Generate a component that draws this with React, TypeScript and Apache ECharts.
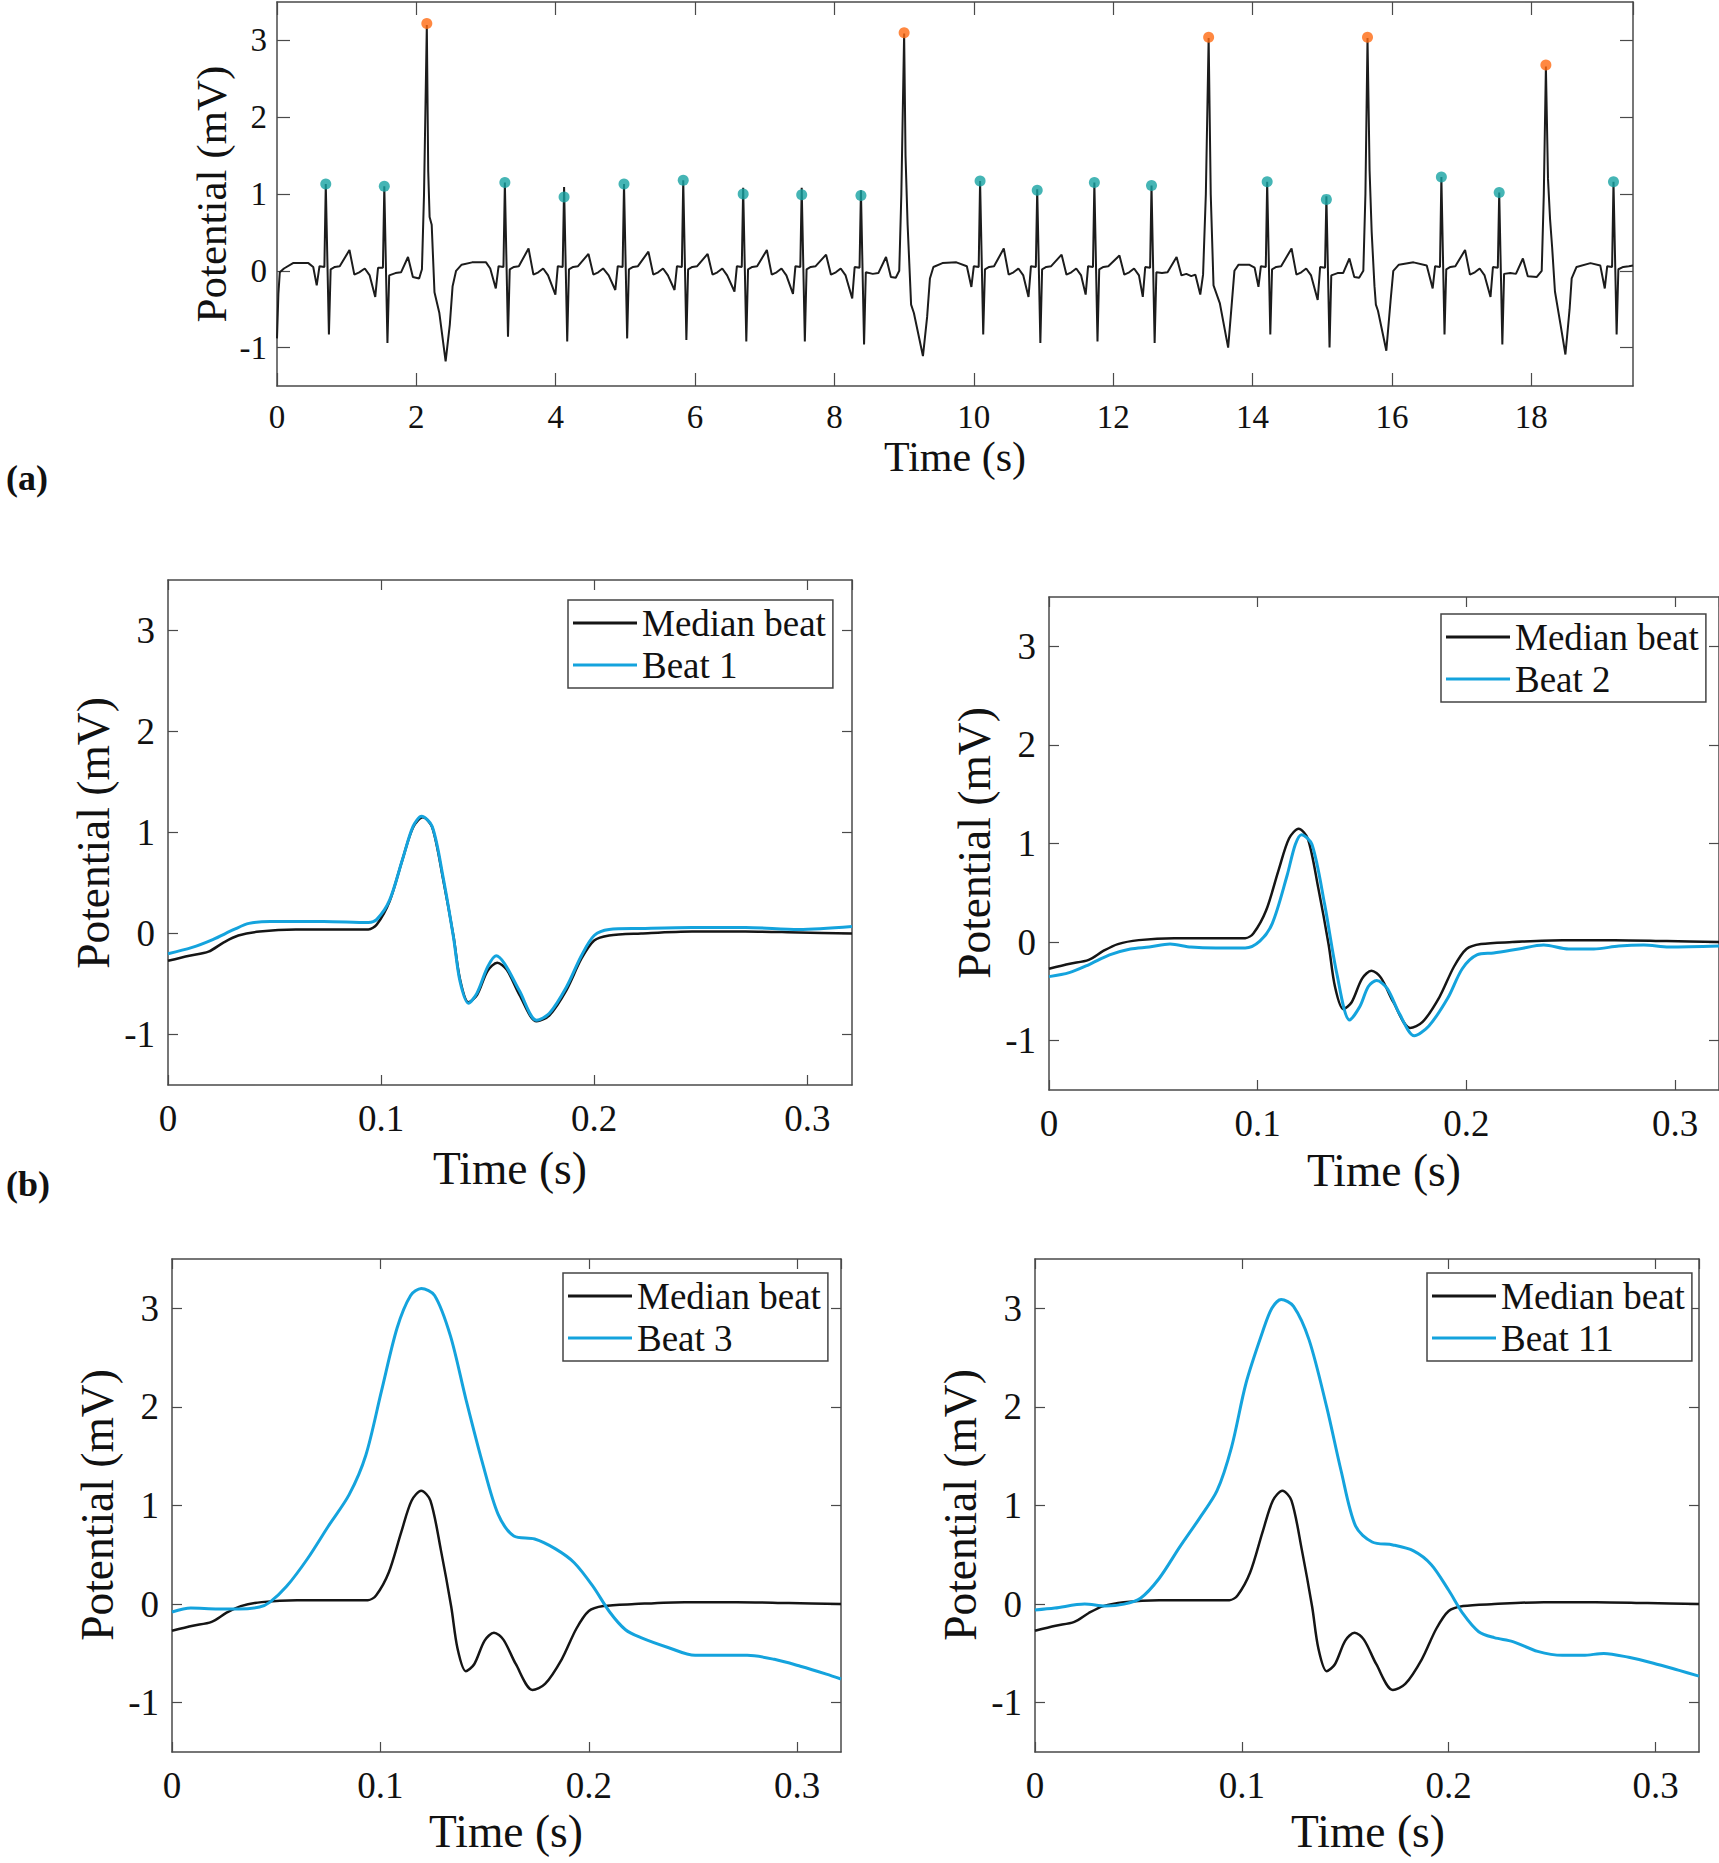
import React, { useEffect, useRef } from 'react';
import * as echarts from 'echarts';

const FONT = '"Liberation Serif", "Times New Roman", serif';

// ---------- (a) full record ----------
const ecgTrace: [number, number][] = [
  [0.00,-0.88],[0.02,-0.30],[0.04,-0.02],[0.10,0.03],[0.23,0.10],[0.45,0.10],[0.52,0.05],
  [0.57,-0.19],[0.61,0.06],[0.68,0.05],[0.70,1.13],[0.745,-0.83],[0.77,0.02],[0.83,0.05],[0.90,0.06],[1.04,0.27],[1.11,-0.05],[1.18,-0.02],[1.26,0.03],[1.33,-0.06],
  [1.41,-0.34],[1.45,0.04],[1.52,0.04],[1.54,1.10],[1.585,-0.94],[1.61,-0.06],[1.70,-0.03],[1.78,-0.02],[1.88,0.18],[1.95,-0.08],[2.04,-0.10],[2.08,0.02],
  [2.11,1.00],[2.15,3.20],[2.17,1.30],[2.19,0.70],[2.22,0.60],[2.26,-0.28],[2.33,-0.55],[2.42,-1.18],[2.48,-0.70],[2.52,-0.20],[2.57,0.00],[2.65,0.08],[2.80,0.11],[3.00,0.11],[3.06,0.03],
  [3.14,-0.23],[3.18,0.06],[3.25,0.05],[3.27,1.15],[3.315,-0.86],[3.34,0.02],[3.40,0.05],[3.47,0.06],[3.61,0.29],[3.68,-0.05],[3.75,-0.02],[3.82,0.03],[3.89,-0.06],
  [3.995,-0.31],[4.03,0.06],[4.10,0.05],[4.12,1.09],[4.165,-0.92],[4.19,0.02],[4.25,0.05],[4.32,0.06],[4.47,0.22],[4.54,-0.05],[4.61,-0.02],[4.68,0.03],[4.76,-0.06],
  [4.855,-0.25],[4.89,0.06],[4.96,0.05],[4.98,1.13],[5.025,-0.88],[5.05,0.02],[5.11,0.05],[5.18,0.06],[5.33,0.25],[5.40,-0.05],[5.47,-0.02],[5.54,0.03],[5.61,-0.06],
  [5.705,-0.25],[5.74,0.06],[5.81,0.05],[5.83,1.18],[5.875,-0.90],[5.90,0.02],[5.96,0.05],[6.03,0.06],[6.18,0.22],[6.25,-0.05],[6.32,-0.02],[6.39,0.03],[6.46,-0.06],
  [6.565,-0.27],[6.60,0.06],[6.67,0.05],[6.69,1.08],[6.735,-0.92],[6.76,0.02],[6.82,0.05],[6.89,0.06],[7.03,0.27],[7.10,-0.05],[7.17,-0.02],[7.24,0.03],[7.31,-0.06],
  [7.405,-0.30],[7.44,0.06],[7.51,0.05],[7.53,1.08],[7.575,-0.92],[7.60,0.02],[7.66,0.05],[7.73,0.06],[7.88,0.21],[7.95,-0.05],[8.02,-0.02],[8.09,0.03],[8.16,-0.06],
  [8.255,-0.36],[8.29,0.05],[8.36,0.04],[8.38,1.05],[8.425,-0.96],[8.45,-0.02],[8.55,-0.04],[8.63,-0.03],[8.74,0.18],[8.81,-0.08],[8.88,-0.09],[8.93,0.00],
  [8.96,1.00],[9.00,3.09],[9.02,1.50],[9.05,0.60],[9.10,-0.44],[9.14,-0.55],[9.27,-1.11],[9.33,-0.60],[9.37,-0.10],[9.42,0.05],[9.55,0.10],[9.75,0.11],[9.90,0.06],
  [9.965,-0.21],[10.00,0.06],[10.07,0.05],[10.09,1.17],[10.135,-0.83],[10.16,0.02],[10.22,0.05],[10.29,0.06],[10.43,0.29],[10.50,-0.05],[10.57,-0.02],[10.64,0.03],[10.71,-0.06],
  [10.785,-0.34],[10.82,0.06],[10.89,0.05],[10.91,1.06],[10.955,-0.94],[10.98,0.02],[11.04,0.05],[11.11,0.06],[11.26,0.21],[11.33,-0.05],[11.40,-0.02],[11.47,0.03],[11.54,-0.06],
  [11.605,-0.31],[11.64,0.06],[11.71,0.05],[11.73,1.15],[11.775,-0.92],[11.80,0.02],[11.86,0.05],[11.93,0.06],[12.09,0.20],[12.16,-0.05],[12.23,-0.02],[12.30,0.03],[12.37,-0.06],
  [12.425,-0.34],[12.46,0.05],[12.53,0.04],[12.55,1.11],[12.595,-0.94],[12.62,-0.02],[12.70,-0.03],[12.78,-0.02],[12.91,0.18],[12.98,-0.06],[13.05,-0.04],[13.12,-0.07],[13.18,-0.05],[13.25,-0.31],[13.29,-0.05],
  [13.33,1.00],[13.37,3.03],[13.40,1.00],[13.44,-0.19],[13.53,-0.42],[13.65,-1.00],[13.70,-0.45],[13.74,0.00],[13.80,0.08],[13.95,0.08],[14.03,0.04],
  [14.085,-0.21],[14.12,0.06],[14.19,0.05],[14.21,1.16],[14.255,-0.83],[14.28,0.02],[14.34,0.05],[14.41,0.06],[14.56,0.29],[14.63,-0.05],[14.70,-0.02],[14.77,0.03],[14.84,-0.06],
  [14.935,-0.38],[14.97,0.05],[15.04,0.04],[15.06,0.97],[15.105,-1.00],[15.13,-0.06],[15.22,-0.03],[15.30,-0.03],[15.39,0.16],[15.46,-0.08],[15.53,-0.09],[15.59,0.00],
  [15.62,1.00],[15.65,3.03],[15.68,1.30],[15.71,0.50],[15.75,-0.20],[15.77,-0.44],[15.80,-0.52],[15.92,-1.04],[15.98,-0.40],[16.02,0.00],[16.10,0.08],[16.31,0.11],[16.50,0.07],
  [16.585,-0.23],[16.62,0.06],[16.69,0.05],[16.71,1.22],[16.755,-0.83],[16.78,0.02],[16.84,0.05],[16.91,0.06],[17.05,0.27],[17.12,-0.05],[17.19,-0.02],[17.26,0.03],[17.33,-0.06],
  [17.415,-0.34],[17.45,0.05],[17.52,0.04],[17.54,1.02],[17.585,-0.96],[17.61,-0.04],[17.70,-0.03],[17.78,-0.04],[17.88,0.16],[17.95,-0.07],[18.08,-0.08],[18.15,0.00],
  [18.18,1.00],[18.21,2.66],[18.24,1.20],[18.27,0.67],[18.30,0.30],[18.34,-0.27],[18.42,-0.70],[18.49,-1.09],[18.55,-0.50],[18.58,-0.10],[18.65,0.05],[18.85,0.10],[18.99,0.07],
  [19.055,-0.23],[19.09,0.06],[19.16,0.05],[19.18,1.16],[19.225,-0.83],[19.25,0.02],[19.32,0.05],[19.40,0.06],[19.46,0.07],
];

const normalPeaks: [number, number][] = [
  [0.70,1.13],[1.54,1.10],[3.27,1.15],[4.12,0.96],[4.98,1.13],[5.83,1.18],[6.69,1.00],[7.53,0.99],[8.38,0.98],
  [10.09,1.17],[10.91,1.05],[11.73,1.15],[12.55,1.11],[14.21,1.16],[15.06,0.93],[16.71,1.22],[17.54,1.02],[19.18,1.16],
];
const ectopicPeaks: [number, number][] = [
  [2.15,3.22],[9.00,3.10],[13.37,3.04],[15.65,3.04],[18.21,2.68],
];

// ---------- (b) beats ----------
const medianBeat: [number, number][] = [
  [0,-0.27],[0.010,-0.22],[0.019,-0.18],[0.026,-0.09],[0.033,-0.02],[0.043,0.02],[0.060,0.04],[0.085,0.04],[0.094,0.04],
  [0.098,0.09],[0.104,0.32],[0.110,0.73],[0.115,1.05],[0.1196,1.15],[0.124,1.05],[0.129,0.55],[0.134,-0.03],[0.137,-0.45],
  [0.141,-0.68],[0.145,-0.61],[0.150,-0.37],[0.1545,-0.29],[0.159,-0.36],[0.165,-0.61],[0.173,-0.87],[0.179,-0.81],
  [0.187,-0.56],[0.194,-0.25],[0.200,-0.07],[0.207,-0.02],[0.222,0.00],[0.246,0.02],[0.271,0.02],[0.296,0.01],[0.321,0.00],
];
const beat1: [number, number][] = [
  [0,-0.20],[0.011,-0.14],[0.021,-0.06],[0.031,0.04],[0.038,0.10],[0.048,0.12],[0.073,0.12],[0.094,0.11],[0.098,0.14],
  [0.104,0.33],[0.110,0.73],[0.115,1.06],[0.119,1.16],[0.124,1.06],[0.129,0.57],[0.134,-0.04],[0.137,-0.47],[0.141,-0.69],
  [0.145,-0.59],[0.150,-0.33],[0.154,-0.22],[0.158,-0.30],[0.165,-0.57],[0.173,-0.86],[0.179,-0.79],[0.187,-0.53],
  [0.194,-0.22],[0.200,-0.02],[0.207,0.04],[0.222,0.05],[0.246,0.06],[0.271,0.06],[0.296,0.04],[0.321,0.07],
];
const beat2: [number, number][] = [
  [0,-0.35],[0.0097,-0.31],[0.019,-0.23],[0.029,-0.13],[0.039,-0.07],[0.048,-0.05],[0.058,-0.02],[0.068,-0.05],[0.080,-0.06],
  [0.094,-0.06],[0.101,0.01],[0.107,0.19],[0.114,0.67],[0.118,0.99],[0.121,1.09],[0.126,0.99],[0.132,0.39],[0.138,-0.33],
  [0.144,-0.79],[0.149,-0.65],[0.153,-0.45],[0.157,-0.39],[0.162,-0.47],[0.168,-0.73],[0.175,-0.95],[0.182,-0.85],
  [0.191,-0.57],[0.198,-0.27],[0.205,-0.13],[0.213,-0.11],[0.225,-0.07],[0.237,-0.03],[0.249,-0.07],[0.261,-0.07],
  [0.273,-0.04],[0.285,-0.03],[0.297,-0.05],[0.321,-0.04],
];
const beat3: [number, number][] = [
  [0,-0.08],[0.009,-0.04],[0.022,-0.05],[0.032,-0.05],[0.042,-0.03],[0.047,0.02],[0.055,0.18],[0.065,0.46],[0.075,0.79],
  [0.085,1.11],[0.093,1.51],[0.1005,2.16],[0.108,2.80],[0.1145,3.13],[0.1196,3.20],[0.126,3.13],[0.1336,2.72],[0.141,2.08],
  [0.149,1.43],[0.1565,0.91],[0.164,0.69],[0.174,0.66],[0.184,0.56],[0.193,0.42],[0.202,0.18],[0.210,-0.08],[0.2176,-0.26],
  [0.225,-0.34],[0.238,-0.44],[0.251,-0.52],[0.263,-0.52],[0.276,-0.52],[0.289,-0.56],[0.3015,-0.63],[0.314,-0.71],[0.321,-0.76],
];
const beat11: [number, number][] = [
  [0,-0.06],[0.0096,-0.04],[0.024,0.00],[0.034,-0.02],[0.043,0.00],[0.051,0.06],[0.060,0.26],[0.070,0.58],[0.0795,0.87],
  [0.088,1.15],[0.095,1.59],[0.102,2.24],[0.110,2.76],[0.1145,3.00],[0.119,3.09],[0.125,3.02],[0.1325,2.68],[0.141,2.00],
  [0.148,1.35],[0.155,0.79],[0.163,0.63],[0.173,0.60],[0.183,0.54],[0.1916,0.40],[0.200,0.14],[0.207,-0.10],[0.2145,-0.28],
  [0.222,-0.34],[0.231,-0.38],[0.243,-0.48],[0.255,-0.52],[0.265,-0.52],[0.275,-0.50],[0.287,-0.54],[0.299,-0.60],[0.311,-0.67],[0.321,-0.73],
];

const yTicks = [-1, 0, 1, 2, 3];
const topXMax = 19.46;
const beatXMax = 0.321;
const X_NAME = 'Time (s)';
const Y_NAME = 'Potential (mV)';

const AXIS_COLOR = '#4a4a4a';
const TEXT_COLOR = '#111';
const BLUE = '#14a3dd';
const MEDIAN_COLOR = '#151515';

function axesFor(g: number, xMax: number, xInterval: number, tickLen: number, fontSize: number, yMargin: number, xMargin: number) {
  const line = { show: true, onZero: false, lineStyle: { color: AXIS_COLOR, width: 1.5 } };
  const tick = { show: true, inside: true, length: tickLen, lineStyle: { color: AXIS_COLOR, width: 1.2 } };
  const xFmt = (v: number) => {
    const r = Math.round(v / xInterval) * xInterval;
    if (Math.abs(r - v) > 1e-9 || v > xMax - 1e-9) return '';
    if (xInterval < 1) return v === 0 ? '0' : v.toFixed(1);
    return String(Math.round(v));
  };
  const xs = [
    {
      type: 'value', gridIndex: g, position: 'bottom', min: 0, max: xMax, interval: xInterval,
      axisLine: line, axisTick: tick, splitLine: { show: false },
      axisLabel: { show: true, showMaxLabel: false, margin: xMargin, fontFamily: FONT, fontSize, color: TEXT_COLOR, formatter: xFmt },
    },
    {
      type: 'value', gridIndex: g, position: 'top', min: 0, max: xMax, interval: xInterval,
      axisLine: line, axisTick: tick, splitLine: { show: false }, axisLabel: { show: false },
    },
  ];
  const ys = [
    {
      type: 'value', gridIndex: g, position: 'left', min: -1.5, max: 3.5,
      axisLine: line, axisTick: { ...tick, customValues: yTicks }, splitLine: { show: false },
      axisLabel: { show: true, customValues: yTicks, margin: yMargin, fontFamily: FONT, fontSize, color: TEXT_COLOR, formatter: (v: number) => String(v) },
    },
    {
      type: 'value', gridIndex: g, position: 'right', min: -1.5, max: 3.5,
      axisLine: line, axisTick: { ...tick, customValues: yTicks }, splitLine: { show: false }, axisLabel: { show: false },
    },
  ];
  return { xs, ys };
}

const grids = [
  { left: 277, top: 2, width: 1356, height: 384 },
  { left: 168, top: 580, width: 684, height: 505 },
  { left: 1049, top: 597, width: 672, height: 493 },
  { left: 172, top: 1259, width: 669, height: 493 },
  { left: 1035, top: 1259, width: 664, height: 493 },
];

function text(x: number, y: number, s: string, size: number, rotate = false, bold = false, align = 'center') {
  return {
    type: 'text', x, y, rotation: rotate ? Math.PI / 2 : 0, silent: true,
    style: { text: s, fill: TEXT_COLOR, font: `${bold ? 'bold ' : ''}${size}px ${FONT}`, textAlign: align, textVerticalAlign: 'middle' },
  };
}

function legendAt(left: number, top: number, beatName: string) {
  return {
    data: ['Median beat', beatName], orient: 'vertical', left, top, selectedMode: false,
    icon: 'rect', itemWidth: 64, itemHeight: 3, itemGap: 2, itemTextGap: 4,
    padding: [3, 7, 3, 5], borderColor: '#444', borderWidth: 1.5, backgroundColor: '#fff',
    textStyle: { fontFamily: FONT, fontSize: 37, color: TEXT_COLOR, lineHeight: 40 },
  };
}

function buildOption() {
  const xAxis: any[] = [];
  const yAxis: any[] = [];
  const a0 = axesFor(0, topXMax, 2, 13, 33, 10, 14);
  xAxis.push(...a0.xs); yAxis.push(...a0.ys);
  for (let g = 1; g <= 4; g++) {
    const a = axesFor(g, beatXMax, 0.1, 10, 37, 13, 15);
    xAxis.push(...a.xs); yAxis.push(...a.ys);
  }
  const beats: [string, [number, number][]][] = [
    ['Beat 1', beat1], ['Beat 2', beat2], ['Beat 3', beat3], ['Beat 11', beat11],
  ];
  const series: any[] = [
    {
      type: 'line', name: 'ECG', xAxisIndex: 0, yAxisIndex: 0, data: ecgTrace, symbol: 'none',
      lineStyle: { color: '#1c1c1c', width: 2 }, clip: true, z: 2,
    },
    {
      type: 'scatter', name: 'Normal R peaks', xAxisIndex: 0, yAxisIndex: 0, data: normalPeaks,
      symbol: 'circle', symbolSize: 11, itemStyle: { color: '#16a3a3' }, z: 3,
    },
    {
      type: 'scatter', name: 'Ectopic R peaks', xAxisIndex: 0, yAxisIndex: 0, data: ectopicPeaks,
      symbol: 'circle', symbolSize: 11, itemStyle: { color: '#ff6a12' }, z: 3,
    },
  ];
  beats.forEach(([name, data], i) => {
    const g = i + 1;
    series.push({
      type: 'line', name: 'Median beat', xAxisIndex: 2 * g, yAxisIndex: 2 * g, data: medianBeat, symbol: 'none',
      smooth: 0.3, lineStyle: { color: MEDIAN_COLOR, width: 2.5 }, itemStyle: { color: MEDIAN_COLOR }, clip: true, z: 2,
    });
    series.push({
      type: 'line', name, xAxisIndex: 2 * g, yAxisIndex: 2 * g, data, symbol: 'none',
      smooth: 0.3, lineStyle: { color: BLUE, width: 3 }, itemStyle: { color: BLUE }, clip: true, z: 3,
    });
  });

  const graphic = [
    text(211, 194, Y_NAME, 43, true),
    text(955, 457, X_NAME, 42),
    text(6, 478, '(a)', 36, false, true, 'left'),
    text(6, 1184, '(b)', 36, false, true, 'left'),
    text(93, 833, Y_NAME, 45.5, true),
    text(510, 1168, X_NAME, 45.5),
    text(974, 843, Y_NAME, 45.5, true),
    text(1384, 1170, X_NAME, 45.5),
    text(97, 1505, Y_NAME, 45.5, true),
    text(506, 1831, X_NAME, 45.5),
    text(960, 1505, Y_NAME, 45.5, true),
    text(1368, 1831, X_NAME, 45.5),
  ];

  return {
    animation: false,
    backgroundColor: '#fff',
    textStyle: { fontFamily: FONT },
    grid: grids.map((g) => ({ ...g, containLabel: false })),
    xAxis,
    yAxis,
    legend: [
      legendAt(568, 600, 'Beat 1'),
      legendAt(1441, 614, 'Beat 2'),
      legendAt(563, 1273, 'Beat 3'),
      legendAt(1427, 1273, 'Beat 11'),
    ],
    series,
    graphic,
  };
}

export default function App() {
  const ref = useRef<HTMLDivElement>(null);
  useEffect(() => {
    if (!ref.current) return;
    const chart = echarts.init(ref.current, null, { renderer: 'svg', width: 1719, height: 1863 });
    chart.setOption(buildOption() as any);
    return () => chart.dispose();
  }, []);
  return (
    <div
      ref={ref}
      style={{ position: 'absolute', left: 0, top: 0, width: 1719, height: 1863, background: '#fff' }}
    />
  );
}
